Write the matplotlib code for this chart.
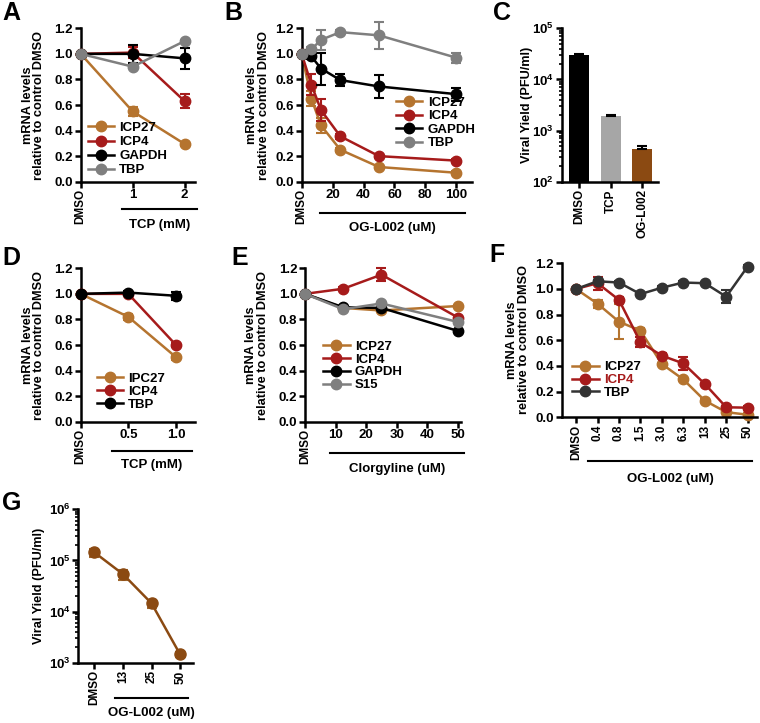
import matplotlib
matplotlib.use("Agg")
import matplotlib.pyplot as plt
import numpy as np
from matplotlib.lines import Line2D
from matplotlib.ticker import FuncFormatter, NullFormatter, LogLocator

plt.rcParams["font.family"] = ["Liberation Sans", "DejaVu Sans"]
plt.rcParams["font.weight"] = "bold"
plt.rcParams["axes.labelweight"] = "bold"
plt.rcParams["mathtext.fontset"] = "custom"
plt.rcParams["mathtext.rm"] = "Liberation Sans:bold"
plt.rcParams["mathtext.it"] = "Liberation Sans:bold"
plt.rcParams["mathtext.bf"] = "Liberation Sans:bold"

W, H = 760, 723

BROWN = "#b5742f"
RED = "#a61b1b"
GRAY = "#7f7f7f"
BLACK = "#000000"
DARK = "#333333"
BAR_BROWN = "#8b4a12"
BAR_GRAY = "#a6a6a6"

# ---- panel A: TCP (mM)
x_a = [0, 1, 2]
a_ticks = ["DMSO", "1", "2"]
icp27_a = [1.0, 0.55, 0.295]
icp27_a_err = [0, 0.035, 0.015]
icp4_a = [1.0, 1.01, 0.63]
icp4_a_err = [0, 0.04, 0.055]
gapdh_a = [1.0, 1.0, 0.965]
gapdh_a_err = [0, 0.07, 0.08]
tbp_a = [1.0, 0.90, 1.10]
tbp_a_err = [0, 0.01, 0.01]

# ---- panel B: OG-L002 (uM)
x_b = [0, 6.25, 12.5, 25, 50, 100]
b_ticks = [0, 20, 40, 60, 80, 100]
b_ticklabels = ["DMSO", "20", "40", "60", "80", "100"]
icp27_b = [1.0, 0.65, 0.44, 0.25, 0.115, 0.07]
icp27_b_err = [0, 0.06, 0.06, 0.015, 0.01, 0.01]
icp4_b = [1.0, 0.76, 0.56, 0.355, 0.20, 0.165]
icp4_b_err = [0, 0.08, 0.085, 0.02, 0.015, 0.01]
gapdh_b = [1.0, 0.98, 0.885, 0.795, 0.745, 0.685]
gapdh_b_err = [0, 0.02, 0.125, 0.045, 0.09, 0.05]
tbp_b = [1.0, 1.035, 1.11, 1.17, 1.145, 0.97]
tbp_b_err = [0, 0.02, 0.08, 0.02, 0.105, 0.04]

# ---- panel C: viral yield bars
c_labels = ["DMSO", "TCP", "OG-L002"]
c_vals = [3.0e4, 1.95e3, 430]
c_err = [1.5e3, 100, 75]

# ---- panel D: TCP (mM)
x_d = [0, 0.5, 1.0]
d_ticklabels = ["DMSO", "0.5", "1.0"]
ipc27_d = [1.0, 0.82, 0.505]
ipc27_d_err = [0, 0.025, 0.02]
icp4_d = [1.0, 1.0, 0.60]
icp4_d_err = [0, 0.01, 0.015]
tbp_d = [1.0, 1.01, 0.985]
tbp_d_err = [0, 0.01, 0.03]

# ---- panel E: Clorgyline (uM)
x_e = [0, 12.5, 25, 50]
e_ticks = [0, 10, 20, 30, 40, 50]
e_ticklabels = ["DMSO", "10", "20", "30", "40", "50"]
icp27_e = [1.0, 0.89, 0.87, 0.905]
icp27_e_err = [0, 0.01, 0.01, 0.01]
icp4_e = [1.0, 1.04, 1.15, 0.815]
icp4_e_err = [0, 0.01, 0.05, 0.01]
gapdh_e = [1.0, 0.895, 0.89, 0.71]
gapdh_e_err = [0, 0.01, 0.01, 0.01]
s15_e = [1.0, 0.88, 0.925, 0.78]
s15_e_err = [0, 0.01, 0.01, 0.01]

# ---- panel F: OG-L002 (uM), categorical doses
f_labels = ["DMSO", "0.4", "0.8", "1.5", "3.0", "6.3", "13", "25", "50"]
icp27_f = [1.0, 0.885, 0.745, 0.675, 0.415, 0.295, 0.13, 0.04, 0.02]
icp27_f_err = [0, 0.03, 0.135, 0.02, 0.01, 0.01, 0.01, 0.01, 0.01]
icp4_f = [1.0, 1.045, 0.915, 0.585, 0.48, 0.42, 0.26, 0.078, 0.075]
icp4_f_err = [0, 0.05, 0.02, 0.04, 0.02, 0.05, 0.01, 0.01, 0.01]
tbp_f = [1.0, 1.06, 1.05, 0.96, 1.01, 1.05, 1.045, 0.94, 1.175]
tbp_f_err = [0, 0.01, 0.01, 0.01, 0.01, 0.01, 0.01, 0.05, 0.01]

# ---- panel G: viral yield vs OG-L002
g_labels = ["DMSO", "13", "25", "50"]
g_vals = [1.44e5, 5.4e4, 1.45e4, 1450]
g_err = [2.5e4, 1.2e4, 2.5e3, 150]

MRNA_LABEL = "mRNA levels\nrelative to control DMSO"


def add_axes_px(fig, left, top, right, bottom):
    return fig.add_axes([left / W, 1 - bottom / H, (right - left) / W, (bottom - top) / H])


def style(ax):
    for side in ("top", "right"):
        ax.spines[side].set_visible(False)
    for side in ("left", "bottom"):
        ax.spines[side].set_linewidth(1.8)
    ax.tick_params(direction="out", length=4, width=1.8, labelsize=9.5, pad=1.5)
    ax.tick_params(which="minor", direction="out", length=2.5, width=1.2)


def mrna_axis(ax):
    ax.set_ylim(0, 1.2)
    ax.set_yticks(np.arange(0, 1.21, 0.2))
    ax.yaxis.set_major_formatter(FuncFormatter(lambda v, p: f"{v:.1f}"))


def rotate_first(ax, size=8.5):
    lab = ax.get_xticklabels()[0]
    lab.set_rotation(90)
    lab.set_fontsize(size)


def series(ax, x, y, err, color, label, z):
    ax.errorbar(x, y, yerr=err, fmt="none", ecolor=color, elinewidth=1.5,
                capsize=3.5, capthick=1.5, clip_on=False, zorder=z)
    ax.plot(x, y, color=color, lw=1.8, marker="o", ms=7.5, label=label,
            clip_on=False, zorder=z + 0.5)


def legend(ax, x, y, spacing=0.05):
    return ax.legend(loc="upper left", bbox_to_anchor=(x, y), frameon=False,
                     fontsize=9.5, borderpad=0, borderaxespad=0, handlelength=2.0,
                     handletextpad=0.4, labelspacing=spacing)


def underline(fig, x0, x1, y, text, ty):
    fig.add_artist(Line2D([x0 / W, x1 / W], [1 - y / H, 1 - y / H],
                          transform=fig.transFigure, color="black", lw=1.5))
    fig.text((x0 + x1) / 2 / W, 1 - ty / H, text, ha="center", va="center",
             fontsize=9.5, fontweight="bold")


def log_axis(ax, lo, hi):
    ax.set_yscale("log")
    ax.set_ylim(lo, hi)
    ax.yaxis.set_major_locator(LogLocator(base=10, numticks=10))
    ax.yaxis.set_minor_locator(LogLocator(base=10, subs=np.arange(2, 10), numticks=20))
    ax.yaxis.set_major_formatter(FuncFormatter(lambda v, p: f"$10^{{{int(round(np.log10(v)))}}}$"))
    ax.yaxis.set_minor_formatter(NullFormatter())


fig = plt.figure(figsize=(W / 100, H / 100), dpi=100)

# ---------------- A
ax = add_axes_px(fig, 80.7, 28.3, 195, 181.7)
style(ax)
mrna_axis(ax)
ax.set_xlim(0, 2.2)
series(ax, x_a, icp27_a, icp27_a_err, BROWN, "ICP27", 2)
series(ax, x_a, icp4_a, icp4_a_err, RED, "ICP4", 3)
series(ax, x_a, gapdh_a, gapdh_a_err, BLACK, "GAPDH", 4)
series(ax, x_a, tbp_a, tbp_a_err, GRAY, "TBP", 5)
ax.set_xticks(x_a, a_ticks)
rotate_first(ax)
legend(ax, 0.06, 0.39, 0.14)

# ---------------- B
ax = add_axes_px(fig, 301.7, 28.3, 471.7, 181.7)
style(ax)
mrna_axis(ax)
ax.set_xlim(0, 110)
series(ax, x_b, icp27_b, icp27_b_err, BROWN, "ICP27", 2)
series(ax, x_b, icp4_b, icp4_b_err, RED, "ICP4", 3)
series(ax, x_b, gapdh_b, gapdh_b_err, BLACK, "GAPDH", 4)
series(ax, x_b, tbp_b, tbp_b_err, GRAY, "TBP", 5)
ax.set_xticks(b_ticks, b_ticklabels)
rotate_first(ax)
legend(ax, 0.555, 0.555, 0.1)

# ---------------- C
ax = add_axes_px(fig, 561.7, 28.3, 658, 181.7)
style(ax)
log_axis(ax, 1e2, 1e5)
xc = np.arange(len(c_labels))
ax.bar(xc, c_vals, width=0.63, color=[BLACK, BAR_GRAY, BAR_BROWN],
       yerr=[np.zeros(len(c_err)), c_err], capsize=3.5,
       error_kw=dict(elinewidth=1.5, capthick=1.5, ecolor="black"))
ax.set_xlim(-0.545, 2.49)
ax.set_xticks(xc, c_labels, rotation=90, fontsize=8.5)

# ---------------- D
ax = add_axes_px(fig, 80.7, 268.3, 195, 421.7)
style(ax)
mrna_axis(ax)
ax.set_xlim(0, 1.2)
series(ax, x_d, ipc27_d, ipc27_d_err, BROWN, "IPC27", 2)
series(ax, x_d, icp4_d, icp4_d_err, RED, "ICP4", 3)
series(ax, x_d, tbp_d, tbp_d_err, BLACK, "TBP", 4)
ax.set_xticks(x_d, d_ticklabels)
rotate_first(ax)
legend(ax, 0.14, 0.32)

# ---------------- E
ax = add_axes_px(fig, 305, 268.3, 461, 421.7)
style(ax)
mrna_axis(ax)
ax.set_xlim(0, 51)
series(ax, x_e, icp27_e, icp27_e_err, BROWN, "ICP27", 2)
series(ax, x_e, icp4_e, icp4_e_err, RED, "ICP4", 3)
series(ax, x_e, gapdh_e, gapdh_e_err, BLACK, "GAPDH", 4)
series(ax, x_e, s15_e, s15_e_err, GRAY, "S15", 5)
ax.set_xticks(e_ticks, e_ticklabels)
rotate_first(ax)
legend(ax, 0.117, 0.53)

# ---------------- F
ax = add_axes_px(fig, 561.7, 263.3, 756.7, 417.3)
style(ax)
mrna_axis(ax)
xf = np.arange(len(f_labels))
ax.set_xlim(-0.67, 8.42)
series(ax, xf, icp27_f, icp27_f_err, BROWN, "ICP27", 2)
series(ax, xf, icp4_f, icp4_f_err, RED, "ICP4", 3)
series(ax, xf, tbp_f, tbp_f_err, DARK, "TBP", 4)
ax.set_xticks(xf, f_labels, rotation=90, fontsize=8.5)
leg = legend(ax, 0.054, 0.365)
leg.get_texts()[1].set_color(RED)

# ---------------- G
ax = add_axes_px(fig, 78.3, 509.3, 193.3, 662.7)
style(ax)
log_axis(ax, 1e3, 1e6)
xg = np.arange(len(g_labels))
ax.set_xlim(-0.56, 3.46)
ax.errorbar(xg, g_vals, yerr=g_err, fmt="none", ecolor="#a0682e", elinewidth=1.5,
            capsize=3.5, capthick=1.5, zorder=2)
ax.plot(xg, g_vals, color=BAR_BROWN, lw=1.8, marker="o", ms=8, zorder=3)
ax.set_xticks(xg, g_labels, rotation=90, fontsize=8.5)

# ---------------- y labels
for cx, cy in [(33.5, 105), (258, 105), (33.8, 345), (257, 345), (518, 340)]:
    fig.text(cx / W, 1 - cy / H, MRNA_LABEL, rotation=90, ha="center", va="center",
             multialignment="center", linespacing=0.9, fontsize=9.2, fontweight="bold")
for cx, cy in [(527, 105), (39.3, 586)]:
    fig.text(cx / W, 1 - cy / H, "Viral Yield (PFU/ml)", rotation=90, ha="center",
             va="center", fontsize=9.2, fontweight="bold")

# ---------------- dose underlines
underline(fig, 122, 197, 209, "TCP (mM)", 225)
underline(fig, 320, 465, 212.7, "OG-L002 (uM)", 228)
underline(fig, 111.7, 191.7, 450.7, "TCP (mM)", 465)
underline(fig, 330, 464, 452.7, "Clorgyline (uM)", 469)
underline(fig, 588, 752, 461, "OG-L002 (uM)", 479)
underline(fig, 115, 188.3, 697.7, "OG-L002 (uM)", 713)

# ---------------- panel letters
for letter, px, py in [("A", 11.7, 13), ("B", 233, 13), ("C", 501.7, 13),
                       ("D", 11.7, 258), ("E", 240, 258), ("F", 496.7, 255),
                       ("G", 11.7, 503)]:
    fig.text(px / W, 1 - py / H, letter, ha="center", va="center",
             fontsize=18, fontweight="bold")

fig.savefig("out.png", dpi=100)
